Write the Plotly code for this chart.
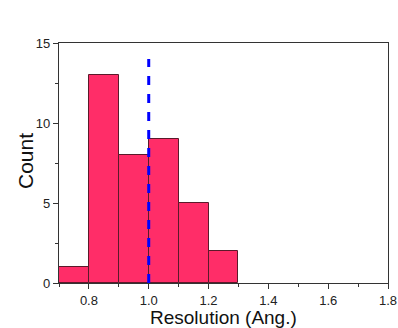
import plotly.graph_objects as go

bin_left = [0.7, 0.8, 0.9, 1.0, 1.1, 1.2]
counts = [1, 13, 8, 9, 5, 2]
bin_width = 0.1
cutoff_x = 1.0
cutoff_top = 14
x_ticks = [0.8, 1.0, 1.2, 1.4, 1.6, 1.8]
y_ticks = [0, 5, 10, 15]

centers = [b + bin_width / 2 for b in bin_left]

fig = go.Figure()
fig.add_trace(go.Bar(
    x=centers, y=counts, width=[bin_width] * len(counts),
    marker=dict(color="#FF2D68", line=dict(color="#5a1a2a", width=1)),
    showlegend=False, hoverinfo="skip",
))
fig.add_trace(go.Scatter(
    x=[cutoff_x, cutoff_x], y=[0, cutoff_top], mode="lines",
    line=dict(color="#0000FF", width=3, dash="dash"), showlegend=False, hoverinfo="skip",
))

axis_common = dict(
    showline=True, linecolor="#333333", linewidth=1.2, mirror=True,
    ticks="outside", ticklen=5, tickcolor="#333333", showgrid=False, zeroline=False,
    tickfont=dict(family="Arial, Liberation Sans", size=13, color="#222222"),
    automargin=False,
)
fig.update_xaxes(
    range=[0.7, 1.8], tickvals=x_ticks, ticktext=[f"{v:.1f}" for v in x_ticks],
    minor=dict(ticks="outside", ticklen=3, tickcolor="#333333", dtick=0.1, tick0=0.7),
    ticklabelstandoff=0,
    **axis_common,
)
fig.update_yaxes(
    range=[0, 15], tickvals=y_ticks,
    minor=dict(ticks="outside", ticklen=3, tickcolor="#333333", dtick=2.5, tick0=0),
    **axis_common,
)
fig.add_annotation(text="Resolution (Ang.)", xref="paper", yref="paper", x=0.5, y=0,
                   xanchor="center", yanchor="middle", yshift=-34, showarrow=False, borderpad=0,
                   font=dict(family="Arial, Liberation Sans", size=19, color="#111111"))
fig.add_annotation(text="Count", xref="paper", yref="paper", x=0, y=0.5,
                   xanchor="center", yanchor="middle", xshift=-34, yshift=2, textangle=-90,
                   showarrow=False, borderpad=0,
                   font=dict(family="Arial, Liberation Sans", size=21, color="#111111"))
fig.update_layout(
    width=398, height=328,
    margin=dict(l=59, r=10, t=43, b=45),
    plot_bgcolor="white", paper_bgcolor="white",
    bargap=0,
)
fig.write_html("out.html", config={"displayModeBar": False},
               post_script="document.body.style.margin='0';document.body.style.overflow='hidden';")
